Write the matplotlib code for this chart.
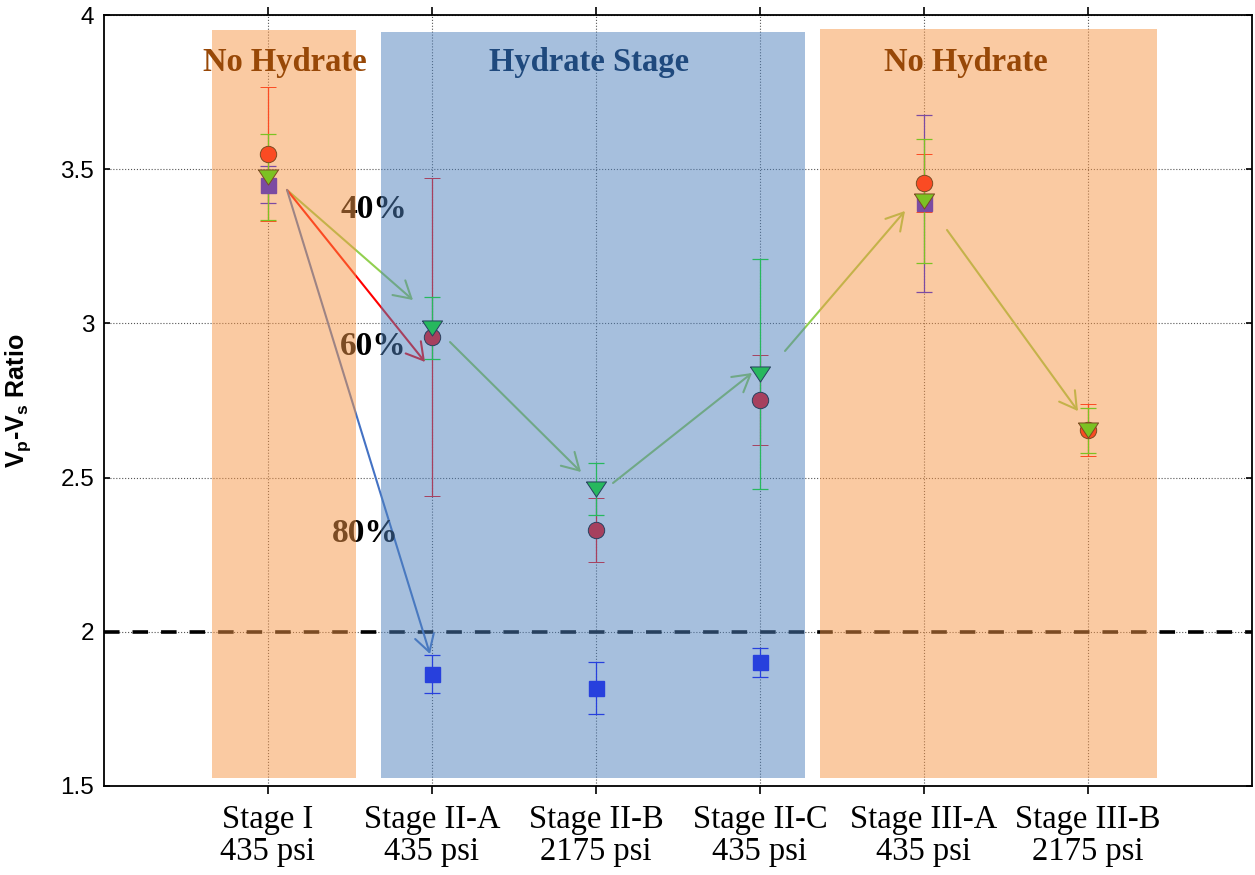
import numpy as np
import matplotlib
matplotlib.use('Agg')
import matplotlib.pyplot as plt
from matplotlib.patches import Rectangle
from matplotlib.path import Path
from matplotlib.transforms import offset_copy

plt.rcParams['mathtext.fontset'] = 'custom'
plt.rcParams['mathtext.bf'] = 'Liberation Sans:bold'
plt.rcParams['mathtext.rm'] = 'Liberation Sans'

# stages and Vp/Vs ratio for the three saturation levels
stages = ['Stage I\n435 psi', 'Stage II-A\n435 psi', 'Stage II-B\n2175 psi',
          'Stage II-C\n435 psi', 'Stage III-A\n435 psi', 'Stage III-B\n2175 psi']

ratio_40 = [3.475, 2.985, 2.463, 2.836, 3.397, 2.654]
err_40 = [0.140, 0.100, 0.083, 0.373, 0.200, 0.073]

ratio_60 = [3.549, 2.956, 2.330, 2.752, 3.455, 2.654]
err_60 = [0.218, 0.517, 0.104, 0.146, 0.094, 0.084]

ratio_80 = [3.449, 1.863, 1.818, 1.902, 3.390, np.nan]
err_80 = [0.060, 0.063, 0.084, 0.047, 0.287, np.nan]

x = np.arange(1, len(stages) + 1)

fig = plt.figure(figsize=(12.55, 8.75), dpi=100)
ax = fig.add_axes([104 / 1255, 89 / 875, 1148 / 1255, 771 / 875])

ax.set_xlim(0, 7)
ax.set_ylim(1.5, 4)
ax.set_axisbelow(True)
ax.grid(True, color='#555555', linestyle=':', linewidth=0.8)

# hydrate boundary line
ax.axhline(2, color='black', linewidth=2.6, dashes=(4.3, 3.6), zorder=2)

# flattened down-pointing triangle
tri = Path([(-1, 0.75), (1, 0.75), (0, -0.75), (-1, 0.75)])

ax.errorbar(x, ratio_80, yerr=err_80, fmt='s', color='#0000FF', ms=10.8,
            mec='#0000FF', elinewidth=0.9, capsize=5.5, capthick=0.9, zorder=4)
ax.errorbar(x, ratio_60, yerr=err_60, fmt='o', color='#FF0000', ms=11.8,
            mec='black', mew=0.7, ecolor='#FF0000', elinewidth=0.9, capsize=5.5,
            capthick=0.9, zorder=4)
ax.errorbar(x, ratio_40, yerr=err_40, fmt='none', ecolor='#00F000',
            elinewidth=0.9, capsize=5.5, capthick=0.9, zorder=4)
ax.plot(x, ratio_40, linestyle='none', marker=tri, ms=14.5, color='#00F000',
        mec='black', mew=0.7, zorder=4.5)


def link(i0, y0, i1, y1, off0, off1, color):
    ta = offset_copy(ax.transData, fig=fig, x=off0[0], y=off0[1], units='dots')
    tb = offset_copy(ax.transData, fig=fig, x=off1[0], y=off1[1], units='dots')
    ax.annotate('', xy=(x[i1], y1), xycoords=tb, xytext=(x[i0], y0), textcoords=ta,
                arrowprops=dict(arrowstyle='->,head_length=0.6,head_width=0.35',
                                mutation_scale=20, color=color, lw=1.5,
                                shrinkA=0, shrinkB=0), zorder=3)


link(0, ratio_80[0], 1, ratio_40[1], (19, -5), (-19, 28), '#92D050')
link(0, ratio_80[0], 1, ratio_60[1], (19, -5), (-7, -25), '#FF0000')
link(0, ratio_80[0], 1, ratio_80[1], (19, -5), (-2, 20), '#4472C4')
link(1, ratio_40[1], 2, ratio_40[2], (18, -14), (-15, 17), '#92D050')
link(2, ratio_40[2], 3, ratio_40[3], (17, 6), (-8, 1), '#92D050')
link(3, ratio_40[3], 4, ratio_40[4], (25, 23), (-19, -10), '#92D050')
link(4, ratio_40[4], 5, ratio_40[5], (23, -29), (-10, 19), '#92D050')

pct_font = dict(family='Liberation Serif', fontweight='bold', fontsize=24,
                ha='center', va='center', color='black', zorder=5)
ax.text(1.645, 3.37, '40%', **pct_font)
ax.text(1.64, 2.925, '60%', **pct_font)
ax.text(1.595, 2.32, '80%', **pct_font)

# stage shading
ax.add_patch(Rectangle((0.659, 1.526), 0.878, 2.425, fc='#F79646', ec='none',
                       alpha=0.5, zorder=10))
ax.add_patch(Rectangle((1.689, 1.526), 2.585, 2.419, fc='#4F81BD', ec='none',
                       alpha=0.5, zorder=10))
ax.add_patch(Rectangle((4.366, 1.526), 2.055, 2.429, fc='#F79646', ec='none',
                       alpha=0.5, zorder=10))

title_font = dict(family='Liberation Serif', fontweight='bold', fontsize=23.5,
                  ha='center', va='center', zorder=11)
ax.text(1.104, 3.845, 'No Hydrate', color='#984807', **title_font)
ax.text(2.957, 3.847, 'Hydrate Stage', color='#1F497D', **title_font)
ax.text(5.256, 3.845, 'No Hydrate', color='#984807', **title_font)

ax.set_xticks(x)
ax.set_xticklabels(stages, family='Liberation Serif', fontsize=23.5, linespacing=1.09)
ax.set_yticks([1.5, 2, 2.5, 3, 3.5, 4])
ax.set_yticklabels(['1.5', '2', '2.5', '3', '3.5', '4'], family='Liberation Sans',
                   fontsize=17.5)
ax.tick_params(axis='x', direction='out', length=6, width=1.2, pad=7, top=True)
ax.tick_params(axis='y', direction='in', length=4, width=1.2, pad=7, right=True)
for sp in ax.spines.values():
    sp.set_linewidth(1.3)

ax.set_ylabel(r'$\mathbf{V_p}$-$\mathbf{V_s}$ Ratio', family='Liberation Sans',
              fontweight='bold', fontsize=18)
ax.yaxis.set_label_coords(-0.062, 0.5)

fig.savefig('out.png', dpi=100)
